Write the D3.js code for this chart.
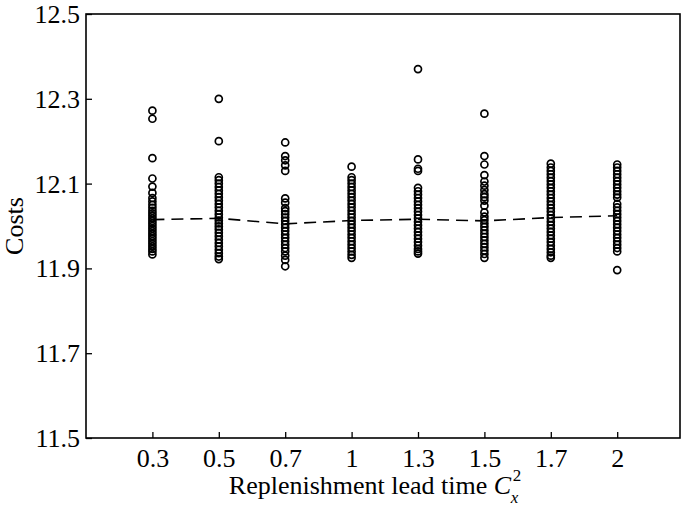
<!DOCTYPE html>
<html><head><meta charset="utf-8">
<script src="https://cdn.jsdelivr.net/npm/d3@7"></script>
<style>
body{margin:0;background:#fff;}
text{font-family:"Liberation Serif","Times New Roman",serif;fill:#000;}
</style></head>
<body><svg id="c" width="681" height="507"></svg>
<script>
const categories = ["0.3","0.5","0.7","1","1.3","1.5","1.7","2"];
const yTicks = [11.5, 11.7, 11.9, 12.1, 12.3, 12.5];
const col03 = [12.272,12.253,12.160,12.112,12.093,12.078,12.066,12.058,12.050,12.043,12.036,12.030,12.024,12.018,12.012,12.006,12.000,11.994,11.988,11.982,11.976,11.970,11.964,11.958,11.952,11.946,11.940,11.933];
const col05 = [12.300,12.200,12.115,12.108,12.100,12.092,12.084,12.076,12.068,12.060,12.052,12.044,12.036,12.028,12.020,12.013,12.006,11.999,11.992,11.984,11.976,11.968,11.960,11.952,11.944,11.936,11.928,11.922];
const col07 = [12.197,12.165,12.155,12.143,12.130,12.065,12.055,12.042,12.035,12.028,12.020,12.012,12.004,11.996,11.988,11.980,11.972,11.964,11.956,11.948,11.940,11.930,11.920,11.905];
const col10 = [12.140,12.115,12.108,12.100,12.092,12.084,12.076,12.068,12.060,12.052,12.044,12.036,12.028,12.020,12.012,12.004,11.996,11.988,11.980,11.972,11.964,11.956,11.948,11.940,11.932,11.925];
const col13 = [12.370,12.157,12.135,12.130,12.090,12.082,12.074,12.066,12.058,12.050,12.042,12.034,12.026,12.018,12.010,12.002,11.994,11.986,11.978,11.970,11.962,11.954,11.946,11.940,11.935];
const col15 = [12.265,12.165,12.145,12.120,12.105,12.095,12.085,12.075,12.068,12.060,12.048,12.032,12.022,12.014,12.006,11.998,11.990,11.982,11.974,11.966,11.958,11.950,11.942,11.934,11.925];
const col17 = [12.147,12.138,12.130,12.122,12.114,12.106,12.098,12.090,12.082,12.074,12.066,12.058,12.050,12.042,12.034,12.026,12.018,12.010,12.002,11.994,11.986,11.978,11.970,11.962,11.954,11.946,11.938,11.930,11.925];
const col20 = [12.145,12.138,12.130,12.122,12.114,12.106,12.098,12.090,12.082,12.074,12.067,12.052,12.044,12.036,12.028,12.020,12.012,12.004,11.996,11.988,11.980,11.972,11.964,11.956,11.948,11.940,11.896];
const means = [12.015,12.018,12.005,12.013,12.016,12.012,12.020,12.024];
const columns = [col03,col05,col07,col10,col13,col15,col17,col20];

const svg = d3.select("#c");
const L = 86, R = 680, T = 14, B = 438;
const x = d3.scaleLinear().domain([-1, 8]).range([L, L + 9 * 66.4]);
const y = d3.scaleLinear().domain([11.5, 12.5]).range([B, T]);

svg.append("rect").attr("x", L).attr("y", T).attr("width", R - L).attr("height", B - T)
  .attr("fill", "none").attr("stroke", "#000").attr("stroke-width", 1.6);

const ya = svg.append("g").attr("transform", `translate(${L},0)`)
  .call(d3.axisLeft(y).tickValues(yTicks).tickFormat(d3.format(".1f")).tickSizeInner(-6).tickSizeOuter(0).tickPadding(6));
ya.select(".domain").remove();
ya.selectAll("line").attr("stroke-width", 1.3);
ya.selectAll("text").attr("font-size", 26).attr("font-family", "Liberation Serif").attr("dy", "0.33em");

const xa = svg.append("g").attr("transform", `translate(0,${B})`)
  .call(d3.axisBottom(x).tickValues(d3.range(categories.length)).tickFormat(i => categories[i]).tickSizeInner(-6).tickSizeOuter(0).tickPadding(11));
xa.select(".domain").remove();
xa.selectAll("line").attr("stroke-width", 1.3);
xa.selectAll("text").attr("font-size", 26).attr("font-family", "Liberation Serif");

svg.append("path").datum(means)
  .attr("d", d3.line().x((d, i) => x(i)).y(d => y(d)))
  .attr("fill", "none").attr("stroke", "#000").attr("stroke-width", 1.6)
  .attr("stroke-dasharray", "12,7");

columns.forEach((col, i) => {
  svg.append("g").selectAll("circle").data(col).join("circle")
    .attr("cx", x(i)).attr("cy", d => y(d)).attr("r", 3.5)
    .attr("fill", "none").attr("stroke", "#000").attr("stroke-width", 1.7);
});

svg.append("text").attr("transform", `translate(23,${(T + B) / 2}) rotate(-90)`)
  .attr("text-anchor", "middle").attr("font-size", 26).text("Costs");

const xl = svg.append("text").attr("x", 370).attr("y", 494).attr("text-anchor", "middle").attr("font-size", 26);
xl.append("tspan").text("Replenishment lead time ");
xl.append("tspan").attr("font-style", "italic").text("C");
const xb = xl.node().getBBox();
svg.append("text").attr("x", xb.x + xb.width + 1).attr("y", 481).attr("font-size", 17).text("2");
svg.append("text").attr("x", xb.x + xb.width - 1).attr("y", 503).attr("font-size", 17).attr("font-style", "italic").text("x");
</script></body></html>
